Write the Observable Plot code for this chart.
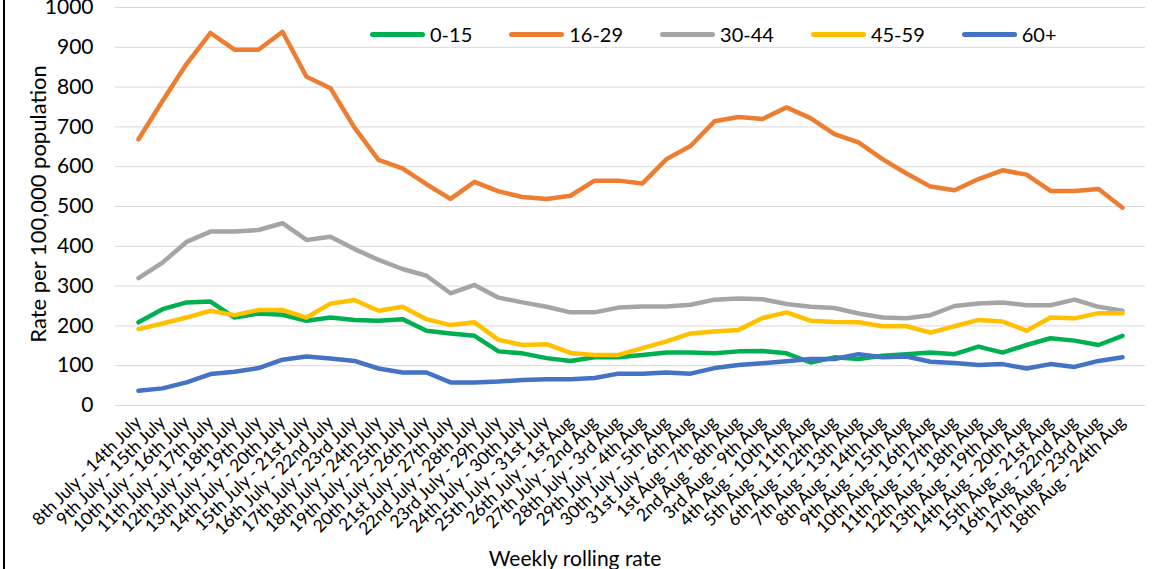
<!DOCTYPE html>
<html><head><meta charset="utf-8">
<script src="https://cdn.jsdelivr.net/npm/d3@7"></script>
<script src="https://cdn.jsdelivr.net/npm/@observablehq/plot@0.6"></script>
<style>
body{margin:0;background:#fff;}
#wrap{position:relative;width:1153px;height:569px;overflow:hidden;font-family:Lato, "Open Sans", sans-serif;color:#000;}
#chart{position:absolute;left:0;top:0;}
#border{position:absolute;left:3px;top:0;width:2px;height:569px;background:#000;}
#legend{position:absolute;top:20px;left:370px;display:flex;gap:37px;font-size:20px;line-height:28px;}
.item{display:flex;align-items:center;}
.sw{width:55px;height:5px;border-radius:3px;margin-right:5px;}
#ylab{position:absolute;left:37px;top:204px;transform:translate(-50%,-50%) rotate(-90deg);white-space:nowrap;font-size:22px;}
#xlab{position:absolute;left:575px;top:547px;transform:translateX(-50%);white-space:nowrap;font-size:21px;line-height:21px;}
</style></head>
<body><div id="wrap"><div id="chart"></div><div id="border"></div><div id="legend"></div><div id="ylab">Rate per 100,000 population</div><div id="xlab">Weekly rolling rate</div></div>
<script>
const categories = [
"8th July - 14th July","9th July - 15th July","10th July - 16th July","11th July - 17th July",
"12th July - 18th July","13th July - 19th July","14th July - 20th July","15th July - 21st July",
"16th July - 22nd July","17th July - 23rd July","18th July - 24th July","19th July - 25th July",
"20th July - 26th July","21st July - 27th July","22nd July - 28th July","23rd July - 29h July",
"24th July - 30th July","25th July - 31st July","26th July - 1st Aug","27th July - 2nd Aug",
"28th July - 3rd Aug","29th July - 4th Aug","30th July - 5th Aug","31st July - 6th Aug",
"1st Aug - 7th Aug","2nd Aug - 8th Aug","3rd Aug - 9th Aug","4th Aug - 10th Aug",
"5th Aug - 11th Aug","6th Aug - 12th Aug","7th Aug - 13th Aug","8th Aug - 14th Aug",
"9th Aug - 15th Aug","10th Aug - 16th Aug","11th Aug - 17th Aug","12th Aug - 18th Aug",
"13th Aug - 19th Aug","14th Aug - 20th Aug","15th Aug - 21st Aug","16th Aug - 22nd Aug",
"17th Aug - 23rd Aug","18th Aug - 24th Aug"];

const seriesNames = ["0-15","16-29","30-44","45-59","60+"];
const seriesColors = ["#00B050","#ED7D31","#A5A5A5","#FFC000","#4472C4"];

const age0_15 = [209,242,259,261,221,231,228,213,221,215,213,217,188,181,175,136,131,119,112,121,121,127,133,133,131,136,137,131,108,121,117,125,129,133,129,148,133,152,169,163,152,175];
const age16_29 = [669,765,858,936,894,894,939,826,797,698,617,596,556,519,562,538,524,519,527,565,565,558,619,652,714,725,720,749,722,682,661,619,583,550,541,569,591,580,539,539,544,497];
const age30_44 = [320,359,411,437,437,441,458,416,424,393,366,343,326,282,303,271,259,248,234,234,246,249,249,253,266,269,267,255,248,245,231,221,219,227,250,256,259,252,252,266,248,238];
const age45_59 = [192,206,221,238,227,240,240,221,256,265,238,248,217,202,209,165,152,154,132,127,127,144,161,181,186,190,220,234,213,210,209,199,199,183,199,215,211,188,221,219,232,232];
const age60plus = [37,43,58,79,85,94,115,123,118,112,93,83,83,58,58,60,64,66,66,69,80,80,83,80,94,102,106,111,117,117,129,121,123,110,107,102,104,93,104,97,112,121];

const yTicks = [0,100,200,300,400,500,600,700,800,900,1000];

const allSeries = [age0_15, age16_29, age30_44, age45_59, age60plus];
const data = [];
allSeries.forEach((vals, s) => vals.forEach((v, i) => data.push({cat: categories[i], series: seriesNames[s], value: v})));

const chart = Plot.plot({
  width: 1153, height: 569,
  marginLeft: 115, marginRight: 8, marginTop: 7, marginBottom: 164,
  style: {fontFamily: "Lato, 'Open Sans', sans-serif", color: "#000", background: "transparent", overflow: "visible"},
  x: {type: "point", domain: categories, padding: 0.5},
  y: {domain: [0, 1000]},
  color: {domain: seriesNames, range: seriesColors},
  marks: [
    Plot.gridY(yTicks, {stroke: "#D9D9D9", strokeOpacity: 1, strokeWidth: 1}),
    Plot.axisY({ticks: yTicks, tickFormat: d => String(d), tickSize: 0, tickPadding: 22, fontSize: 21, label: null}),
    Plot.axisX({tickSize: 0, tickRotate: -45, tickPadding: 14, fontSize: 17.5, label: null}),
    Plot.lineY(data, {x: "cat", y: "value", z: "series", stroke: "series", strokeWidth: 4.5, strokeLinecap: "round", strokeLinejoin: "round"})
  ]
});
document.getElementById("chart").appendChild(chart);

const legend = document.getElementById("legend");
seriesNames.forEach((n, i) => {
  const it = document.createElement("div"); it.className = "item";
  const sw = document.createElement("div"); sw.className = "sw"; sw.style.background = seriesColors[i];
  const t = document.createElement("span"); t.textContent = n;
  it.appendChild(sw); it.appendChild(t); legend.appendChild(it);
});
</script>
</body></html>
